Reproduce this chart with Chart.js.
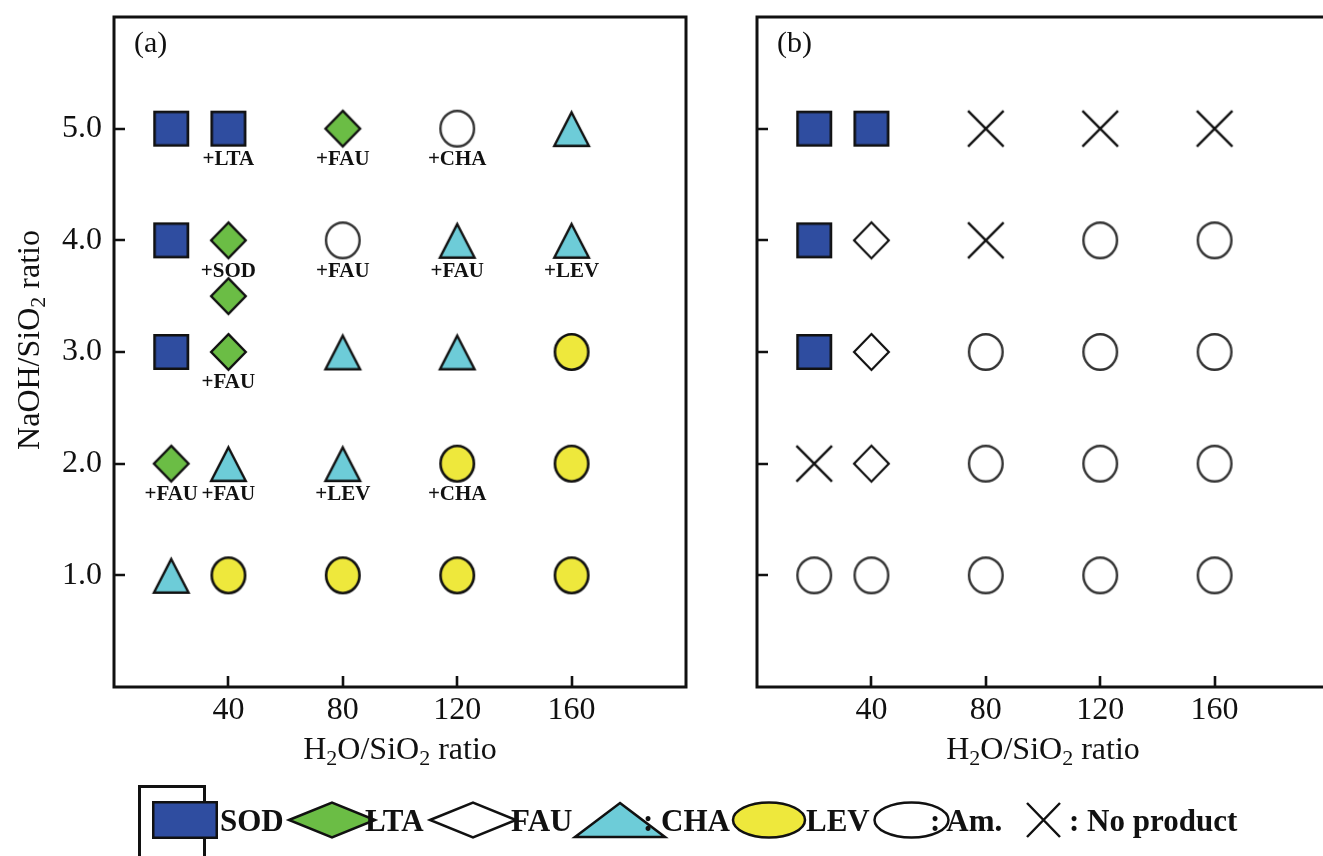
<!DOCTYPE html>
<html>
<head>
<meta charset="utf-8">
<title>Phase diagram: NaOH/SiO2 vs H2O/SiO2</title>
<script src="https://cdn.jsdelivr.net/npm/chart.js@4.4.1/dist/chart.umd.min.js"></script>
<style>
  html, body { margin: 0; padding: 0; background: #fff; overflow: hidden; }
  #page { position: relative; width: 1323px; height: 856px; overflow: hidden; background: #fff; }
  #chartA { position: absolute; left: 0; top: 0; }
  #chartB { position: absolute; left: 700px; top: 0; }
  #legend { position: absolute; left: 0; top: 770px; }
  #legend text { font-family: 'Liberation Serif', 'Times New Roman', serif; font-weight: bold; font-size: 31px; fill: #111; }
</style>
</head>
<body>
<div id="page">
  <canvas id="chartA" width="700" height="780"></canvas>
  <canvas id="chartB" width="640" height="780"></canvas>
  <svg id="legend" width="1323" height="86" viewBox="0 0 1323 86">
    <rect x="139.5" y="16.5" width="65" height="80" fill="#fff" stroke="#111" stroke-width="3"/>
    <rect x="153.25" y="32.25" width="63.5" height="35.5" fill="#2F4DA0" stroke="#111" stroke-width="2.5"/>
    <text x="220" y="61">SOD</text>
    <polygon points="289,50 332,32.5 375,50 332,67.5" fill="#6BBD45" stroke="#111" stroke-width="2.5"/>
    <text x="365" y="61">LTA</text>
    <polygon points="430,50 473,32.5 516,50 473,67.5" fill="#fff" stroke="#111" stroke-width="2.5"/>
    <text x="511" y="61">FAU</text>
    <polygon points="620,33 665,67 575,67" fill="#6DCCD8" stroke="#111" stroke-width="2.5"/>
    <text x="643" y="61">: CHA</text>
    <ellipse cx="769" cy="50" rx="36" ry="17.5" fill="#EEE83C" stroke="#111" stroke-width="2.5"/>
    <text x="806" y="61">LEV</text>
    <ellipse cx="911.5" cy="50" rx="37" ry="17.5" fill="#fff" stroke="#111" stroke-width="2.5"/>
    <text x="930" y="61">: Am.</text>
    <path d="M1027,33 L1060,67 M1060,33 L1027,67" stroke="#111" stroke-width="2.5" fill="none"/>
    <text x="1069" y="61">: No product</text>
  </svg>
</div>
<script>
// ---- axis ticks ----
const xTickValues = [40, 80, 120, 160];
const yTickValues = [1.0, 2.0, 3.0, 4.0, 5.0];

// ---- panel (a): main product at each composition ----
const aSOD = [{x: 20, y: 5}, {x: 40, y: 5}, {x: 20, y: 4}, {x: 20, y: 3}];
const aLTA = [{x: 80, y: 5}, {x: 40, y: 4}, {x: 40, y: 3.5}, {x: 40, y: 3}, {x: 20, y: 2}];
const aCHA = [{x: 160, y: 5}, {x: 120, y: 4}, {x: 160, y: 4}, {x: 80, y: 3}, {x: 120, y: 3},
              {x: 40, y: 2}, {x: 80, y: 2}, {x: 20, y: 1}];
const aLEV = [{x: 160, y: 3}, {x: 120, y: 2}, {x: 160, y: 2}, {x: 40, y: 1}, {x: 80, y: 1},
              {x: 120, y: 1}, {x: 160, y: 1}];
const aAm  = [{x: 120, y: 5}, {x: 80, y: 4}];
// secondary phases written under the marker
const aMinor = [
  {x: 40, y: 5, text: '+LTA'}, {x: 80, y: 5, text: '+FAU'}, {x: 120, y: 5, text: '+CHA'},
  {x: 40, y: 4, text: '+SOD'}, {x: 80, y: 4, text: '+FAU'}, {x: 120, y: 4, text: '+FAU'},
  {x: 160, y: 4, text: '+LEV'}, {x: 40, y: 3, text: '+FAU'},
  {x: 20, y: 2, text: '+FAU'}, {x: 40, y: 2, text: '+FAU'}, {x: 80, y: 2, text: '+LEV'},
  {x: 120, y: 2, text: '+CHA'}
];

// ---- panel (b) ----
const bSOD  = [{x: 20, y: 5}, {x: 40, y: 5}, {x: 20, y: 4}, {x: 20, y: 3}];
const bFAU  = [{x: 40, y: 4}, {x: 40, y: 3}, {x: 40, y: 2}];
const bNone = [{x: 80, y: 5}, {x: 120, y: 5}, {x: 160, y: 5}, {x: 80, y: 4}, {x: 20, y: 2}];
const bAm   = [{x: 120, y: 4}, {x: 160, y: 4}, {x: 80, y: 3}, {x: 120, y: 3}, {x: 160, y: 3},
               {x: 80, y: 2}, {x: 120, y: 2}, {x: 160, y: 2}, {x: 20, y: 1}, {x: 40, y: 1},
               {x: 80, y: 1}, {x: 120, y: 1}, {x: 160, y: 1}];

const SERIF = "'Liberation Serif', 'Times New Roman', serif";
const INK = '#111';

// ---- marker sprites used as point styles ----
function marker(kind, fill, stroke, w, h, lw) {
  const pad = 5;
  const c = document.createElement('canvas');
  c.width = w + pad * 2;
  c.height = h + pad * 2;
  const g = c.getContext('2d');
  const cx = c.width / 2, cy = c.height / 2;
  const hw = (w - lw) / 2, hh = (h - lw) / 2;
  g.lineWidth = lw;
  g.strokeStyle = stroke;
  g.fillStyle = fill || '#fff';
  g.lineJoin = 'miter';
  g.beginPath();
  if (kind === 'square') {
    g.rect(cx - hw, cy - hh, hw * 2, hh * 2);
  } else if (kind === 'diamond') {
    g.moveTo(cx, cy - hh); g.lineTo(cx + hw, cy); g.lineTo(cx, cy + hh); g.lineTo(cx - hw, cy);
    g.closePath();
  } else if (kind === 'triangle') {
    g.moveTo(cx, cy - hh + 1); g.lineTo(cx + hw, cy + hh); g.lineTo(cx - hw, cy + hh);
    g.closePath();
  } else if (kind === 'ellipse') {
    g.ellipse(cx, cy, hw, hh, 0, 0, Math.PI * 2);
  } else if (kind === 'cross') {
    g.moveTo(cx - hw, cy - hh); g.lineTo(cx + hw, cy + hh);
    g.moveTo(cx + hw, cy - hh); g.lineTo(cx - hw, cy + hh);
  }
  if (kind !== 'cross') g.fill();
  g.stroke();
  return c;
}

const mSOD   = marker('square',   '#2F4DA0', INK, 36, 36, 2.6);
const mLTA   = marker('diamond',  '#6BBD45', INK, 37, 38, 2.4);
const mFAU   = marker('diamond',  '#fff',    INK, 37, 38, 2.2);
const mCHA   = marker('triangle', '#6DCCD8', INK, 37, 37, 2.4);
const mLEV   = marker('ellipse',  '#EEE83C', INK, 36, 38, 2.6);
const mAm    = marker('ellipse',  '#fff',   '#333', 36, 38, 2.4);
const mNone  = marker('cross',    null,     INK, 38, 38, 2.4);

function set(label, data, sprite) {
  return { label, data, pointStyle: sprite, pointRadius: 18, pointHoverRadius: 18 };
}

// ---- text with subscript runs ----
function drawRich(ctx, parts, size, x, y, rotate) {
  const base = size + 'px ' + SERIF;
  const sub = Math.round(size * 0.68) + 'px ' + SERIF;
  let total = 0;
  const widths = parts.map(p => {
    ctx.font = p.sub ? sub : base;
    const w = ctx.measureText(p.t).width;
    total += w;
    return w;
  });
  ctx.save();
  ctx.translate(x, y);
  if (rotate) ctx.rotate(-Math.PI / 2);
  ctx.fillStyle = INK;
  ctx.textAlign = 'left';
  ctx.textBaseline = 'alphabetic';
  let cx = -total / 2;
  parts.forEach((p, i) => {
    ctx.font = p.sub ? sub : base;
    ctx.fillText(p.t, cx, p.sub ? size * 0.2 : 0);
    cx += widths[i];
  });
  ctx.restore();
}

const xTitleParts = [{t: 'H'}, {t: '2', sub: true}, {t: 'O/SiO'}, {t: '2', sub: true}, {t: ' ratio'}];
const yTitleParts = [{t: 'NaOH/SiO'}, {t: '2', sub: true}, {t: ' ratio'}];

// frame, inward tick marks, panel tag, notes and axis titles
const panelDecor = {
  id: 'panelDecor',
  afterDraw(chart, args, o) {
    const ctx = chart.ctx;
    const a = chart.chartArea;
    const xs = chart.scales.x, ys = chart.scales.y;
    ctx.save();
    ctx.strokeStyle = INK;
    ctx.lineWidth = 3;
    ctx.strokeRect(a.left, a.top, a.right - a.left, a.bottom - a.top);
    ctx.lineWidth = 2.6;
    ctx.beginPath();
    xTickValues.forEach(v => {
      const px = Math.round(xs.getPixelForValue(v));
      ctx.moveTo(px, a.bottom); ctx.lineTo(px, a.bottom - 11);
    });
    yTickValues.forEach(v => {
      const py = Math.round(ys.getPixelForValue(v));
      ctx.moveTo(a.left, py); ctx.lineTo(a.left + 11, py);
    });
    ctx.stroke();

    ctx.fillStyle = INK;
    ctx.font = '30px ' + SERIF;
    ctx.textAlign = 'left';
    ctx.textBaseline = 'middle';
    ctx.fillText(o.tag, a.left + 20, a.top + 27);

    ctx.font = 'bold 21px ' + SERIF;
    ctx.textAlign = 'center';
    (o.notes || []).forEach(n => {
      ctx.fillText(n.text, xs.getPixelForValue(n.x), ys.getPixelForValue(n.y) + 31);
    });

    drawRich(ctx, xTitleParts, 32, (a.left + a.right) / 2, 759, false);
    if (o.yTitle) drawRich(ctx, yTitleParts, 32, 39, 340, true);
    ctx.restore();
  }
};

function buildPanel(canvas, datasets, cfg) {
  return new Chart(canvas, {
    type: 'scatter',
    data: { datasets },
    options: {
      responsive: false,
      animation: false,
      devicePixelRatio: 1,
      events: [],
      layout: { autoPadding: false, padding: { left: 0, top: 17, right: cfg.padRight, bottom: 0 } },
      scales: {
        x: {
          type: 'linear', min: 0, max: 200,
          grid: { display: false, drawTicks: false },
          border: { display: false },
          afterBuildTicks: s => { s.ticks = xTickValues.map(v => ({ value: v })); },
          afterFit: s => { s.height = 93; s.paddingLeft = 0; s.paddingRight = 0; },
          ticks: {
            padding: 4, color: INK, maxRotation: 0, autoSkip: false,
            font: { family: SERIF, size: 32 },
            callback: v => String(v)
          }
        },
        y: {
          type: 'linear', min: 0, max: 6,
          grid: { display: false, drawTicks: false },
          border: { display: false },
          afterBuildTicks: s => { s.ticks = yTickValues.map(v => ({ value: v })); },
          afterFit: s => { s.width = cfg.yWidth; s.paddingTop = 0; s.paddingBottom = 0; },
          ticks: {
            display: cfg.yLabels, padding: 12, color: INK, autoSkip: false,
            font: { family: SERIF, size: 32 },
            callback: v => Number(v).toFixed(1)
          }
        }
      },
      plugins: {
        legend: { display: false },
        tooltip: { enabled: false },
        panelDecor: { tag: cfg.tag, notes: cfg.notes, yTitle: cfg.yTitle }
      }
    },
    plugins: [panelDecor]
  });
}

buildPanel(document.getElementById('chartA'), [
  set('SOD', aSOD, mSOD),
  set('LTA', aLTA, mLTA),
  set('CHA', aCHA, mCHA),
  set('LEV', aLEV, mLEV),
  set('Am.', aAm, mAm)
], { tag: '(a)', notes: aMinor, yTitle: true, yLabels: true, yWidth: 114, padRight: 14 });

buildPanel(document.getElementById('chartB'), [
  set('SOD', bSOD, mSOD),
  set('FAU', bFAU, mFAU),
  set('No product', bNone, mNone),
  set('Am.', bAm, mAm)
], { tag: '(b)', notes: [], yTitle: false, yLabels: false, yWidth: 57, padRight: 11 });
</script>
</body>
</html>
